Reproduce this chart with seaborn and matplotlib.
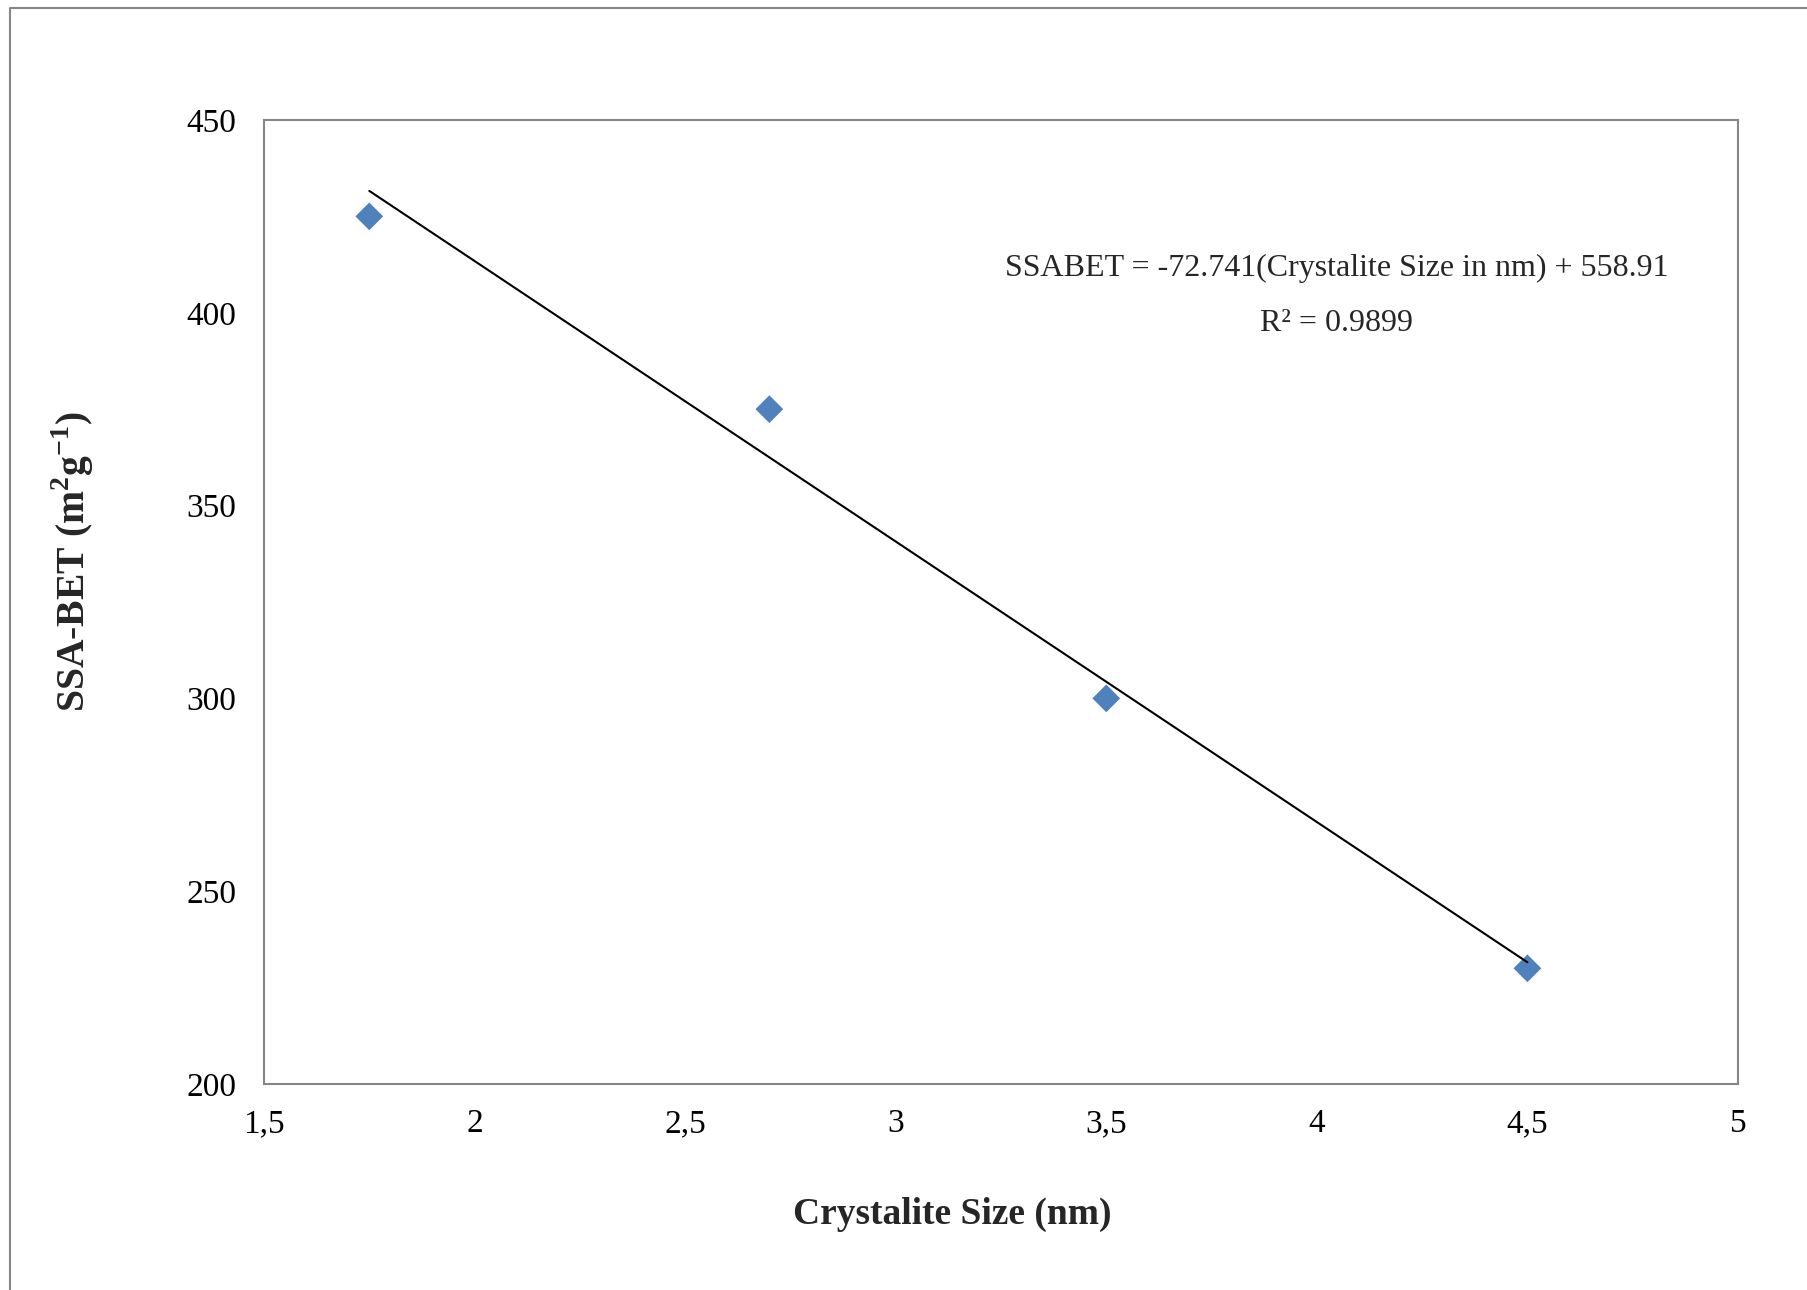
import matplotlib
matplotlib.use("Agg")
import matplotlib.pyplot as plt
import seaborn as sns
import pandas as pd
from matplotlib.lines import Line2D

# data
crystalite_size = [1.75, 2.7, 3.5, 4.5]
ssa_bet = [425, 375, 300, 230]
x_ticks = [1.5, 2, 2.5, 3, 3.5, 4, 4.5, 5]
x_tick_labels = ['1,5', '2', '2,5', '3', '3,5', '4', '4,5', '5']
y_ticks = [200, 250, 300, 350, 400, 450]
equation_text = 'SSABET = -72.741(Crystalite Size in nm) + 558.91'
r2_text = 'R² = 0.9899'

df = pd.DataFrame({'size': crystalite_size, 'ssa': ssa_bet})

sns.set_style('white')
plt.rcParams['font.family'] = ['Liberation Serif', 'DejaVu Serif']
plt.rcParams['mathtext.fontset'] = 'custom'
plt.rcParams['mathtext.rm'] = 'Liberation Serif'
plt.rcParams['mathtext.bf'] = 'Liberation Serif:bold'

fig = plt.figure(figsize=(18.07, 12.90), dpi=100)
ax = fig.add_axes([0.1461, 0.1597, 0.8157, 0.7473])

# points
sns.scatterplot(data=df, x='size', y='ssa', marker='D', s=200, color='#4F81BD',
                edgecolor='none', ax=ax, zorder=2)
# linear trend line (fit done by seaborn)
sns.regplot(data=df, x='size', y='ssa', scatter=False, ci=None, ax=ax,
            line_kws={'color': 'black', 'lw': 1.5, 'zorder': 3})

ax.set_xlim(1.5, 5)
ax.set_ylim(200, 450)
ax.set_xticks(x_ticks)
ax.set_xticklabels(x_tick_labels)
ax.set_yticks(y_ticks)
ax.tick_params(axis='both', length=0, labelsize=24, colors='black')
ax.tick_params(axis='y', pad=20)
ax.tick_params(axis='x', pad=18)
ax.set_xlabel('')
ax.set_ylabel('')

for sp in ax.spines.values():
    sp.set_visible(True)
    sp.set_color('#868686')
    sp.set_linewidth(1.5)

# axis titles
fig.text(952 / 1807, 1 - 1214 / 1290, 'Crystalite Size (nm)', fontsize=27,
         fontweight='bold', ha='center', va='center')
fig.text(73 / 1807, 1 - 562 / 1290, r'SSA-BET (m$^\mathbf{2}$g$^\mathbf{-1}$)',
         fontsize=28.5, fontweight='bold', rotation=90, ha='center', va='center')

# trendline equation
fig.text(1337 / 1807, 1 - 268 / 1290, equation_text, fontsize=23,
         ha='center', va='center')
fig.text(1337 / 1807, 1 - 323 / 1290, r2_text, fontsize=23,
         ha='center', va='center')

# outer chart border (top and left visible)
fig.add_artist(Line2D([10 / 1807, 10 / 1807, 1.0], [0.0, 1 - 8 / 1290, 1 - 8 / 1290],
                      color='#868686', lw=1.5, transform=fig.transFigure))

plt.savefig('out.png', dpi=100)
